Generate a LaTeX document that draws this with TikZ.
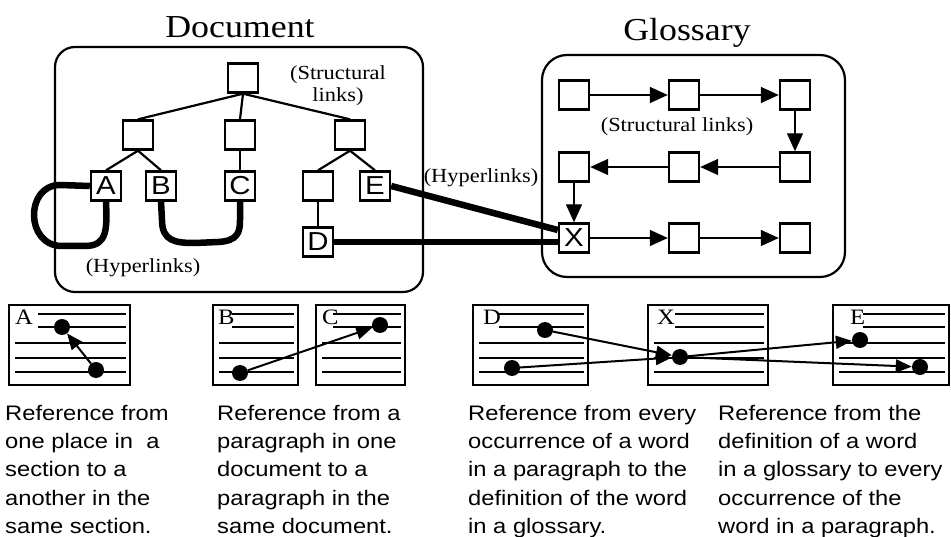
\documentclass[tikz,border=0pt]{standalone}
\usepackage{fontspec}
\setmainfont{Liberation Serif}
\newfontfamily\tms[FakeStretch=1.12]{Liberation Serif}
\newfontfamily\helv[FakeStretch=1.13]{Liberation Sans}
\usetikzlibrary{arrows.meta}

\begin{document}
\begin{tikzpicture}[x=1pt, y=-1pt,
    sect/.style={draw, fill=white, line width=2.4pt, minimum width=30pt, minimum height=29pt,
        inner sep=0pt, font=\helv\fontsize{26}{26}\selectfont},
    tree/.style={line width=2.2pt},
    hyper/.style={line width=6.5pt},
    seq/.style={line width=1.4pt, -{Triangle[length=18pt, width=16pt]}},
    title/.style={font=\tms\fontsize{32}{32}\selectfont},
    note/.style={font=\tms\fontsize{20}{22}\selectfont, align=center},
    frame/.style={line width=2.2pt},
    pane/.style={line width=2.4pt},
    rule/.style={line width=2pt},
    dot/.style={circle, fill, inner sep=0pt, minimum size=16pt},
    ref/.style={line width=2pt, -{Triangle[length=16pt, width=13pt]}},
    caption/.style={anchor=north west, inner sep=0pt, align=left,
        font=\helv\fontsize{21}{28.25}\selectfont}]
    \useasboundingbox (0,0) rectangle (951,537);

    % document and glossary frames
    \draw[frame, rounded corners=20pt] (55,47) rectangle (423,292);
    \draw[frame, rounded corners=25pt] (542,55) rectangle (845,277);
    \node[title] (doctitle) at (240,27) {Document};
    \node[title] (glotitle) at (687,33) {Glossary};

    % section tree
    \node[sect] (root) at (243,78) {};
    \node[sect] (s1) at (138,135) {};
    \node[sect] (s2) at (240,135) {};
    \node[sect] (s3) at (350,135) {};
    \node[sect] (A) at (106,186) {A};
    \node[sect] (B) at (161,186) {B};
    \node[sect] (C) at (240,186) {C};
    \node[sect] (s31) at (318,186) {};
    \node[sect] (E) at (375,186) {E};
    \node[sect] (D) at (318,242) {D};
    \draw[tree] (root.south) -- (s1.north);
    \draw[tree] (root.south) -- (s2.north);
    \draw[tree] (root.south) -- (s3.north);
    \draw[tree] (s1.south) -- (A.north);
    \draw[tree] (s1.south) -- (B.north);
    \draw[tree] (s2.south) -- (C.north);
    \draw[tree] (s3.south) -- (s31.north);
    \draw[tree] (s3.south) -- (E.north);
    \draw[tree] (s31.south) -- (D.north);
    \node[note] (doclinks) at (338,86) {(Structural\\links)};

    % glossary chain
    \node[sect] (g11) at (574,95) {};
    \node[sect] (g12) at (684,95) {};
    \node[sect] (g13) at (795,95) {};
    \node[sect] (g21) at (574,167) {};
    \node[sect] (g22) at (684,167) {};
    \node[sect] (g23) at (795,167) {};
    \node[sect] (X) at (574,238) {X};
    \node[sect] (g32) at (684,238) {};
    \node[sect] (g33) at (795,238) {};
    \draw[seq] (g11) -- (g12);
    \draw[seq] (g12) -- (g13);
    \draw[seq] (g13) -- (g23);
    \draw[seq] (g23) -- (g22);
    \draw[seq] (g22) -- (g21);
    \draw[seq] (g21) -- (X);
    \draw[seq] (X) -- (g32);
    \draw[seq] (g32) -- (g33);
    \node[note] (glolinks) at (677,127) {(Structural links)};

    % hyperlinks
    \draw[hyper] (A.west) -- (60,185) .. controls (25,185) and (25,246) .. (62,246)
        -- (85,246) .. controls (108,246) and (107,228) .. (A.south);
    \draw[hyper] (B.south) -- (162,220) .. controls (162,241) and (175,243) .. (195,243)
        -- (218,242) .. controls (238,241) and (240,232) .. (240,220) -- (C.south);
    \draw[hyper] (D.east) -- (D.east -| X.west);
    \draw[hyper] (E.east) -- ([yshift=8pt]X.west);
    \node[note] (hyp1) at (143,268) {(Hyperlinks)};
    \node[note] (hyp2) at (481,178) {(Hyperlinks)};

    % paragraph cards
    \foreach \nm/\l/\r/\t/\o/\g in {labA/9/130/A/6/29, labB/213/298/B/5/19, labC/316/405/C/6/17,
        labD/473/588/D/10/26, labX/648/768/X/9/27, labE/833/949/E/17/30} {
        \draw[pane] (\l,305) rectangle (\r,385);
        \node[anchor=base west, inner sep=0pt, font=\tms\fontsize{22}{22}\selectfont]
            (\nm) at (\l+\o,325) {\t};
        \foreach \ly in {314,327} \draw[rule] (\l+\g,\ly) -- (\r-4,\ly);
        \foreach \ly in {343,358,372} \draw[rule] (\l+6,\ly) -- (\r-4,\ly);
    }
    \node[dot] (a1) at (62,327) {};
    \node[dot] (a2) at (96,370) {};
    \node[dot] (b1) at (240,373) {};
    \node[dot] (c1) at (380,325) {};
    \node[dot] (d1) at (545,330) {};
    \node[dot] (d2) at (512,368) {};
    \node[dot] (x1) at (680,357) {};
    \node[dot] (e1) at (860,340) {};
    \node[dot] (e2) at (920,367) {};
    \draw[ref] (a2) -- (a1);
    \draw[ref] (b1) -- (c1);
    \draw[ref] (d1) -- (x1);
    \draw[ref] (d2) -- (x1);
    \draw[ref] (x1) -- (e1);
    \draw[ref] (x1) -- (e2);

    % captions
    \node[caption] (cap1) at (5,405) {Reference from\\one place in\ \ a\\section to a\\another in the\\same section.};
    \node[caption] (cap2) at (217,405) {Reference from a\\paragraph in one\\document to a\\paragraph in the\\same document.};
    \node[caption] (cap3) at (468,405) {Reference from every\\occurrence of a word\\in a paragraph to the\\definition of the word\\in a glossary.};
    \node[caption] (cap4) at (718,405) {Reference from the\\definition of a word\\in a glossary to every\\occurrence of the\\word in a paragraph.};
\end{tikzpicture}
\end{document}
